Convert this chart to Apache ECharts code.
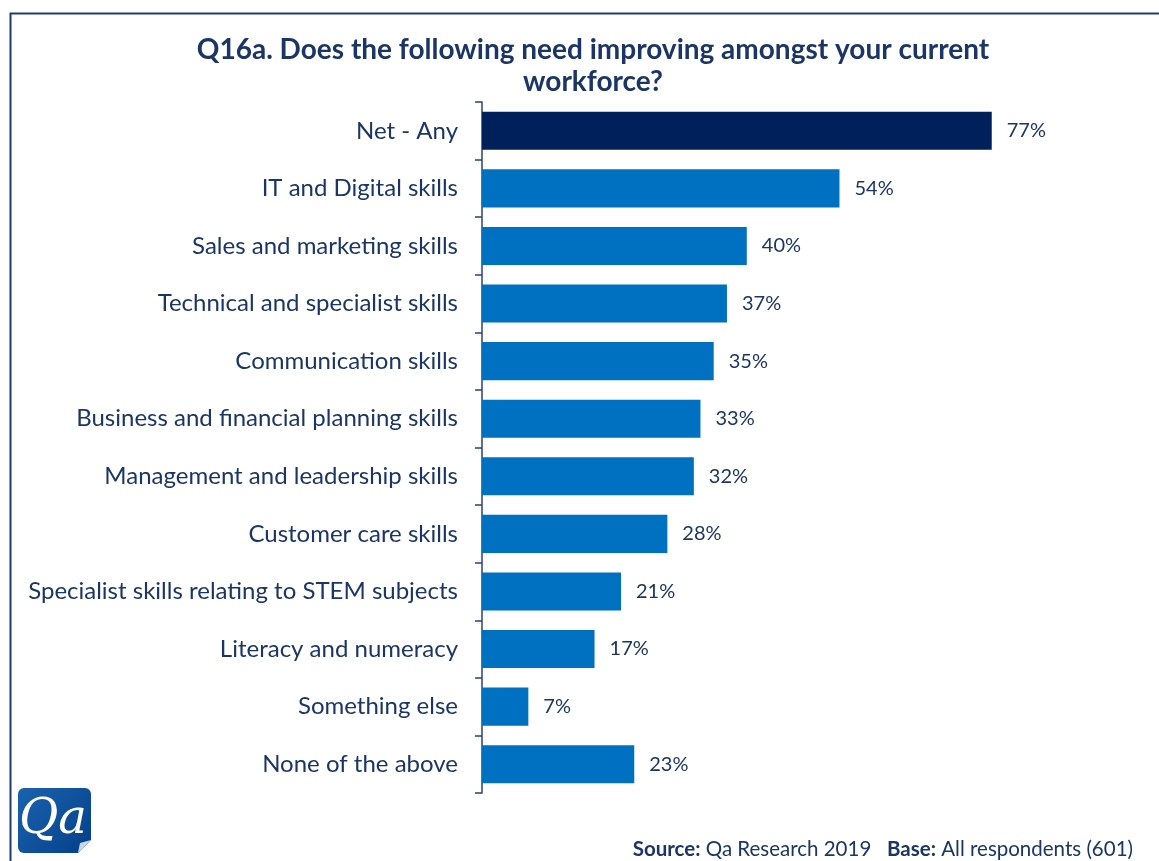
<!DOCTYPE html>
<html>
<head>
<meta charset="utf-8">
<script src="https://cdn.jsdelivr.net/npm/echarts@6/dist/echarts.min.js"></script>
<style>
  html, body { margin: 0; padding: 0; background: #ffffff; }
  #chart { width: 1159px; height: 861px; }
</style>
</head>
<body>
<div id="chart"></div>
<script>
// Skill areas, top to bottom, with the share of respondents (%)
const categories = [
  'Net - Any',
  'IT and Digital skills',
  'Sales and marketing skills',
  'Technical and specialist skills',
  'Communication skills',
  'Business and financial planning skills',
  'Management and leadership skills',
  'Customer care skills',
  'Specialist skills relating to STEM subjects',
  'Literacy and numeracy',
  'Something else',
  'None of the above'
];
const values = [77, 54, 40, 37, 35, 33, 32, 28, 21, 17, 7, 23];
const highlighted = ['Net - Any'];

const NAVY = '#00205b';
const BLUE = '#0070c0';
const TEXT = '#1b3666';
const FONT = 'Lato, "Open Sans", sans-serif';

const chart = echarts.init(document.getElementById('chart'));

chart.setOption({
  backgroundColor: '#ffffff',
  animation: false,
  title: {
    text: 'Q16a. Does the following need improving amongst your current\nworkforce?',
    left: 588,
    top: 29,
    textAlign: 'center',
    textStyle: {
      fontFamily: FONT,
      fontWeight: 'bold',
      fontSize: 28,
      lineHeight: 32,
      color: TEXT
    }
  },
  grid: { left: 482, right: 15, top: 102, bottom: 68, containLabel: false },
  xAxis: {
    type: 'value',
    min: 0,
    max: 100,
    show: false
  },
  yAxis: {
    type: 'category',
    data: categories,
    inverse: true,
    axisLine: { show: true, lineStyle: { color: '#2b3f7a', width: 1.5 } },
    axisTick: { show: true, length: 7, lineStyle: { color: '#2b3f7a', width: 1.5 } },
    axisLabel: {
      margin: 24,
      fontFamily: FONT,
      fontSize: 24,
      color: TEXT
    }
  },
  series: [{
    type: 'bar',
    barCategoryGap: '34%',
    data: values.map((v, i) => ({
      value: v,
      itemStyle: { color: highlighted.includes(categories[i]) ? NAVY : BLUE }
    })),
    label: {
      show: true,
      position: 'right',
      distance: 15,
      formatter: '{c}%',
      fontFamily: FONT,
      fontSize: 20,
      color: TEXT
    }
  }],
  graphic: [
    {
      type: 'rect',
      left: 8, top: 11,
      shape: { width: 1200, height: 900 },
      style: { fill: 'none', stroke: '#1f3a74', lineWidth: 2 },
      z: -1
    },
    {
      type: 'group',
      left: 18, top: 788,
      children: [
        {
          type: 'rect',
          shape: { x: 0, y: 0, width: 73, height: 65, r: 6 },
          style: {
            fill: new echarts.graphic.LinearGradient(0, 0, 1, 1, [
              { offset: 0, color: '#1a63b0' },
              { offset: 1, color: '#053f88' }
            ])
          }
        },
        {
          type: 'polygon',
          shape: { points: [[60, 65], [73, 52], [73, 65]] },
          style: { fill: '#ffffff' }
        },
        {
          type: 'polygon',
          shape: { points: [[60, 65], [73, 52], [62, 55]] },
          style: { fill: '#c9d6e6' }
        },
        {
          type: 'text',
          x: 35, y: 33,
          style: {
            text: 'Qa',
            fontFamily: '"DejaVu Serif", "Liberation Serif", serif',
            fontStyle: 'italic',
            fontSize: 48,
            fill: '#ffffff',
            align: 'center',
            verticalAlign: 'middle'
          }
        }
      ]
    },
    {
      type: 'text',
      right: 26, top: 839,
      style: {
        text: '{b|Source:} Qa Research 2019   {b|Base:} All respondents (601)',
        fontFamily: FONT,
        fontSize: 20.5,
        fill: TEXT,
        rich: {
          b: { fontFamily: FONT, fontSize: 20.5, fontWeight: 'bold', fill: TEXT }
        }
      }
    }
  ]
});
</script>
</body>
</html>
